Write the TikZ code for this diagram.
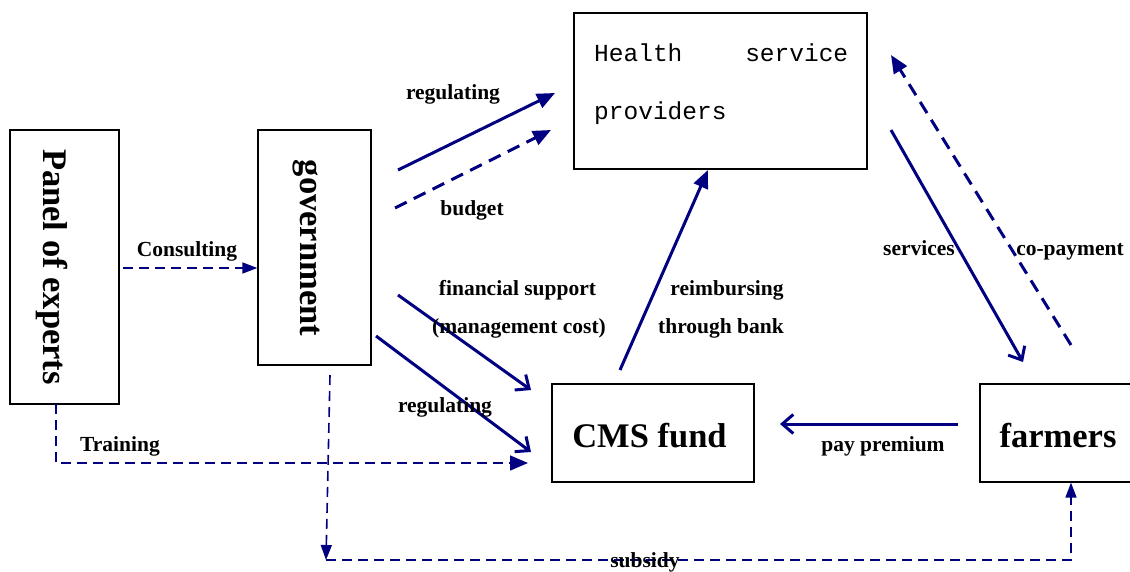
\documentclass[tikz,border=0pt]{standalone}
\usepackage{fontspec}
\setmainfont{Liberation Serif}
\newfontfamily\monofont{Liberation Mono}
\usetikzlibrary{arrows.meta}
\definecolor{navy}{RGB}{0,0,128}

\begin{document}
\begin{tikzpicture}
	[x=1pt,y=-1pt,
	box/.style={draw=black,line width=1.3pt,inner sep=0pt},
	bigtext/.style={font=\fontsize{34.5}{40}\selectfont\bfseries,inner sep=0pt},
	flowlabel/.style={font=\fontsize{21.5}{24}\selectfont\bfseries,inner sep=0pt,anchor=base},
	solidarrow/.style={draw=navy,line width=3pt},
	fatdash/.style={draw=navy,line width=3pt,dash pattern=on 13pt off 8pt},
	thindash/.style={draw=navy,line width=1.6pt,dash pattern=on 10pt off 6pt},
	bigtri/.style={-{Triangle[length=18pt,width=15pt]}},
	smalltri/.style={-{Triangle[length=15pt,width=11pt]}},
	barb/.style={-{Straight Barb[length=11pt,width=19pt]}}]
	\useasboundingbox (0,0) rectangle (1130,572);
	% boxes
	\node at (64.5,267) (panel) [box,minimum width=109pt,minimum height=274pt] {};
	\node at (52,267) (paneltext) [bigtext,rotate=-90] {Panel of experts};
	\node at (314.5,247.5) (gov) [box,minimum width=113pt,minimum height=235pt] {};
	\node at (306,248) (govtext) [bigtext,rotate=-90] {government};
	\node at (720.5,91) (hsp) [box,minimum width=293pt,minimum height=156pt] {};
	\node at (594,62) (hsptext) [anchor=base west,inner sep=0pt,text width=254pt,align=left,
		font=\monofont\fontsize{24.5}{58}\selectfont] {Health\hfill service\\providers};
	\node at (653,433) (cms) [box,minimum width=202pt,minimum height=98pt] {};
	\node at (649.5,447) (cmstext) [bigtext,anchor=base] {CMS fund};
	\node at (1058,433) (farmers) [box,minimum width=156pt,minimum height=98pt] {};
	\node at (1058,447) (farmerstext) [bigtext,anchor=base] {farmers};
	% free ends of the connectors
	\coordinate (regstart) at (398,170);
	\coordinate (regend) at (555,93);
	\coordinate (budstart) at (395,208);
	\coordinate (budend) at (551,130);
	\coordinate (consstart) at (123,268);
	\coordinate (finstart) at (398,295);
	\coordinate (finend) at (531,390);
	\coordinate (reglstart) at (376,336);
	\coordinate (reglend) at (531,452);
	\coordinate (trainstart) at (56,404);
	\coordinate (traincorner) at (56,463);
	\coordinate (trainend) at (528,463);
	\coordinate (subtop) at (330,375);
	\coordinate (subcorner) at (326,560);
	\coordinate (subright) at (1071,560);
	\coordinate (reimstart) at (620,370);
	\coordinate (reimend) at (708,170);
	\coordinate (paystart) at (958,424);
	\coordinate (payend) at (780,424);
	\coordinate (servstart) at (891,130);
	\coordinate (servend) at (1023,362);
	\coordinate (copaystart) at (1071,345);
	\coordinate (copayend) at (891,55);
	% connectors
	\draw[solidarrow,bigtri] (regstart) -- (regend);
	\draw[fatdash,bigtri] (budstart) -- (budend);
	\draw[thindash,smalltri] (consstart) -- (consstart -| gov.west);
	\draw[solidarrow,barb] (finstart) -- (finend);
	\draw[solidarrow,barb] (reglstart) -- (reglend);
	\draw[thindash,bigtri] (trainstart) -- (traincorner) -- (trainend);
	\draw[thindash,smalltri] (subtop) -- (subcorner);
	\draw[thindash,smalltri] (subcorner) -- (subright) -- (subright |- farmers.south);
	\draw[solidarrow,bigtri] (reimstart) -- (reimend);
	\draw[solidarrow,barb] (paystart) -- (payend);
	\draw[solidarrow,barb] (servstart) -- (servend);
	\draw[fatdash,bigtri] (copaystart) -- (copayend);
	% labels
	\node at (453,100) (lreg) [flowlabel] {regulating};
	\node at (472,216) (lbud) [flowlabel] {budget};
	\node at (187,256) (lcons) [flowlabel] {Consulting};
	\node at (517.5,295) (lfin) [flowlabel] {financial support};
	\node at (519,333) (lman) [flowlabel] {(management cost)};
	\node at (727,295) (lreim) [flowlabel] {reimbursing};
	\node at (721,333) (lbank) [flowlabel] {through bank};
	\node at (445,412) (lregl) [flowlabel] {regulating};
	\node at (120,451) (ltrain) [flowlabel] {Training};
	\node at (883,451) (lpay) [flowlabel] {pay premium};
	\node at (919,255) (lserv) [flowlabel] {services};
	\node at (1070,255) (lcopay) [flowlabel] {co-payment};
	\node at (645,567) (lsub) [flowlabel] {subsidy};
\end{tikzpicture}
\end{document}
